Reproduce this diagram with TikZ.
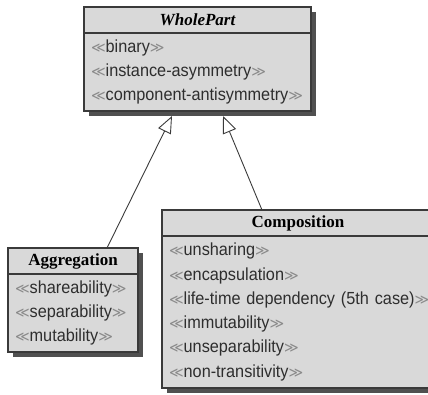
\documentclass[tikz,border=0pt]{standalone}
\usepackage{fontspec}
\setmainfont{Liberation Serif}
\newfontfamily\attrfam[FakeStretch=0.93]{Liberation Sans}
\newfontfamily\symfam{DejaVu Sans}
\usetikzlibrary{positioning,shadows,arrows.meta}

\definecolor{boxfill}{HTML}{D9D9D9}
\definecolor{boxline}{HTML}{3A3A3A}
\definecolor{shadowc}{HTML}{505050}
\definecolor{attrc}{HTML}{2E2E2E}
\definecolor{guilc}{HTML}{8A8A8A}

\newcommand{\attrfont}{\attrfam\fontsize{17.5}{24.3}\selectfont\color{attrc}}
\newcommand{\titlefont}{\fontsize{17}{20}\selectfont\bfseries}
\newcommand{\guil}[1]{{\symfam\fontsize{14}{14}\selectfont\color{guilc}#1}}
\newcommand{\stype}[1]{\mbox{\guil{≪}#1\guil{≫}}}

\tikzset{
    classbox/.style={draw=boxline, fill=boxfill, line width=1.1pt, outer sep=0pt,
        drop shadow={shadow xshift=4.5pt, shadow yshift=-4.5pt, fill=shadowc, opacity=1}},
    classtitle/.style={classbox, font=\titlefont, inner sep=0pt, minimum height=26pt},
    classbody/.style={classbox, font=\attrfont, align=left, inner xsep=7pt, inner ysep=0pt},
    gen/.style={draw=boxline, line width=0.9pt, -{Triangle[open, length=17pt, width=14pt]}}
}

\begin{document}
\begin{tikzpicture}[x=1pt,y=1pt]
    \useasboundingbox (0,0) rectangle (428,-394);
    \clip (0,0) rectangle (428,-394);

    % Clase abstracta (arriba)
    \node[classtitle, anchor=north west, minimum width=227pt] (wp-t) at (84,-7) {\itshape WholePart};
    \node[classbody, below=0pt of wp-t, text width=213pt, minimum height=78pt] (wp-b)
        {\stype{binary}\\ \stype{instance-asymmetry}\\ \stype{component-antisymmetry}};

    % Agregacion (izquierda)
    \node[classtitle, anchor=north west, minimum width=130pt] (agg-t) at (8,-248) {Aggregation};
    \node[classbody, below=0pt of agg-t, text width=116pt, minimum height=78pt] (agg-b)
        {\stype{shareability}\\ \stype{separability}\\ \stype{mutability}};

    % Composicion (derecha)
    \node[classtitle, anchor=north west, minimum width=272pt] (comp-t) at (162,-210) {Composition};
    \node[classbody, below=0pt of comp-t, text width=258pt, minimum height=152pt] (comp-b)
        {\stype{unsharing}\\ \stype{encapsulation}\\ \stype{life-time dependency (5th case)}\\
         \stype{immutability}\\ \stype{unseparability}\\ \stype{non-transitivity}};

    % Generalizaciones
    \draw[gen] ([xshift=34pt]agg-t.north) -- ([xshift=-25.5pt,yshift=-5pt]wp-b.south);
    \draw[gen] ([xshift=-36pt]comp-t.north) -- ([xshift=25.5pt,yshift=-5pt]wp-b.south);
\end{tikzpicture}
\end{document}
